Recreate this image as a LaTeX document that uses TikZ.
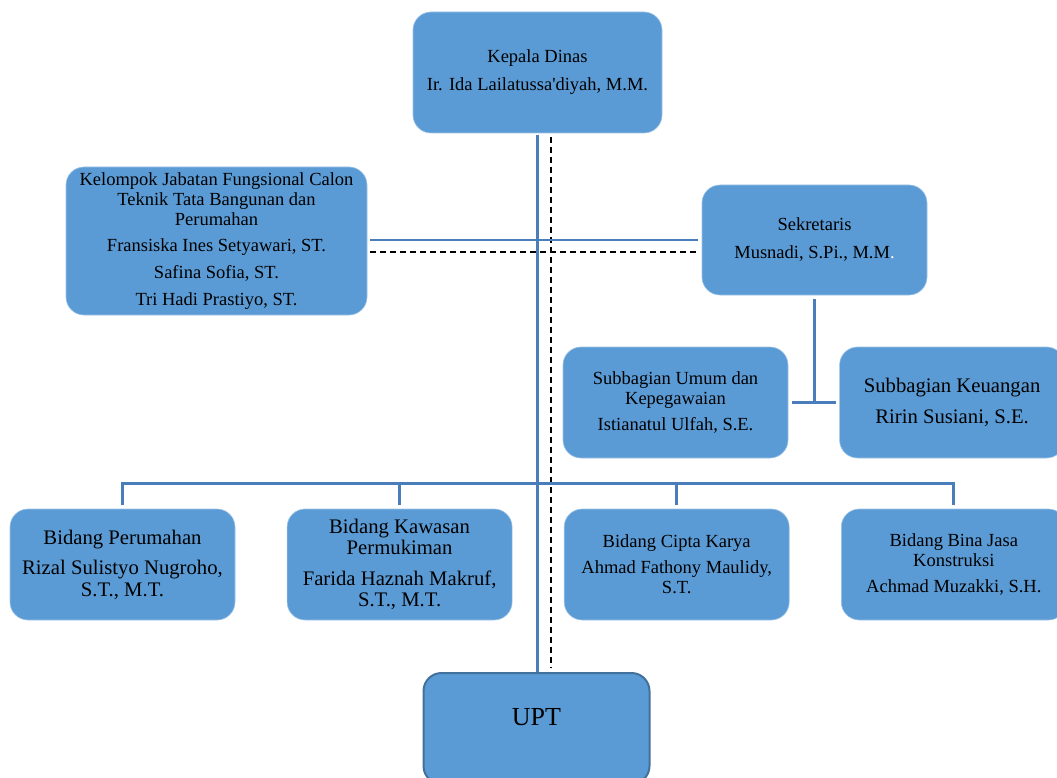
\documentclass[tikz,border=0pt]{standalone}
\usepackage{fontspec}
\setmainfont{Liberation Serif}
\usetikzlibrary{positioning}
\definecolor{boxfill}{HTML}{5B9BD5}
\definecolor{boxedge}{HTML}{9DC3E6}
\definecolor{linkblue}{HTML}{4A7EBB}
\definecolor{uptedge}{HTML}{41719C}

\begin{document}
\begin{tikzpicture}[x=1pt, y=-1pt, node distance=51.5pt,
        unit/.style={draw=boxedge, line width=0.6pt, fill=boxfill, rectangle, rounded corners=18pt, align=center, minimum width=225pt, minimum height=111pt, inner sep=2pt, font=\fontsize{18.5}{20}\selectfont},
        bigunit/.style={unit, font=\fontsize{20.7}{21.5}\selectfont},
        link/.style={draw=linkblue, line width=2.8pt},
        dashlink/.style={draw=black, line width=2pt, dash pattern=on 6pt off 4pt}]
        \useasboundingbox (0,0) rectangle (1057,778);

        % nodes
        \node [unit, minimum width=249pt, minimum height=121pt] (kepala) at (537.5,72.5) {Kepala Dinas\\[8pt]Ir. Ida Lailatussa\textquotesingle diyah, M.M.};
        \node [unit, minimum width=301pt, minimum height=148pt] (kelompok) at (216.5,241) {Kelompok Jabatan Fungsional Calon\\Teknik Tata Bangunan dan\\Perumahan\\[6pt]Fransiska Ines Setyawari, ST.\\[7pt]Safina Sofia, ST.\\[7pt]Tri Hadi Prastiyo, ST.};
        \node [unit, minimum height=110pt] (sekretaris) at (814.5,240) {Sekretaris\\[8pt]Musnadi, S.Pi., M.M\textcolor{white}{.}};
        \node [unit] (umum) at (675.5,402.5) {Subbagian Umum dan\\Kepegawaian\\[6pt]Istianatul Ulfah, S.E.};
        \node [bigunit, right=51pt of umum] (keuangan) {Subbagian Keuangan\\[9pt]Ririn Susiani, S.E.};
        \node [bigunit] (perumahan) at (122.5,564.5) {Bidang Perumahan\\[9pt]Rizal Sulistyo Nugroho,\\S.T., M.T.};
        \node [bigunit, right=of perumahan] (kawasan) {Bidang Kawasan\\Permukiman\\[9pt]Farida Haznah Makruf,\\S.T., M.T.};
        \node [unit, right=of kawasan] (cipta) {Bidang Cipta Karya\\[6pt]Ahmad Fathony Maulidy,\\S.T.};
        \node [unit, right=of cipta] (bina) {Bidang Bina Jasa\\Konstruksi\\[6pt]Achmad Muzakki, S.H.};
        \node [unit, draw=uptedge, line width=2pt, minimum width=226pt, font=\fontsize{26}{28}\selectfont, text depth=23pt] (upt) at (536.5,728.5) {UPT};

        % lines
        \path [link] ([yshift=-2pt]kepala.south) -- (kepala.south |- upt.north);
        \path [dashlink] ([xshift=13pt, yshift=-4pt]kepala.south) -- ([xshift=13pt, yshift=4pt]kepala.south |- upt.north);
        \path [link] ([xshift=3pt]kelompok.east |- sekretaris.west) -- ([xshift=-4pt]sekretaris.west);
        \path [dashlink] ([xshift=3pt, yshift=-12pt]kelompok.east |- sekretaris.west) -- ([xshift=-4pt, yshift=-12pt]sekretaris.west);
        \path [link] ([yshift=-4pt]sekretaris.south) -- (sekretaris.south |- umum.east);
        \path [link] ([xshift=4pt]umum.east) -- ([xshift=-3pt]keuangan.west);
        \coordinate (bus) at (0,483.5);
        \path [link] ([yshift=4pt]perumahan.north) -- (perumahan.north |- bus) -- (bina.north |- bus) -- ([yshift=4pt]bina.north);
        \path [link] (kawasan.north |- bus) -- ([yshift=4pt]kawasan.north);
        \path [link] (cipta.north |- bus) -- ([yshift=4pt]cipta.north);
    \end{tikzpicture}
\end{document}
